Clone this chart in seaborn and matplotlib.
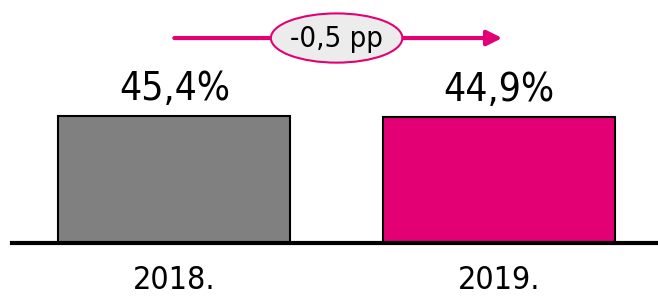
import pandas as pd
import seaborn as sns
import matplotlib.pyplot as plt
from matplotlib.patches import Ellipse

# podaci
years = ['2018.', '2019.']
values = [45.4, 44.9]
value_labels = ['45,4%', '44,9%']
change_label = '-0,5 pp'
bar_colors = ['#808080', '#E20074']

df = pd.DataFrame({'year': years, 'value': values})

sns.set_style('white')
plt.rcParams['font.family'] = ['DejaVu Sans']
plt.rcParams['font.stretch'] = 'condensed'
plt.rcParams['text.color'] = 'black'
plt.rcParams['xtick.color'] = 'black'

fig = plt.figure(figsize=(6.58, 2.97), dpi=100)
ax = fig.add_axes([12 / 658, 1 - 243 / 297, 1 - 12 / 658, 243 / 297])

sns.barplot(data=df, x='year', y='value', hue='year', palette=bar_colors,
            saturation=1, width=0.714, edgecolor='black', linewidth=1.5,
            legend=False, ax=ax)

ax.set_xlim(-0.5, 1.49)
ax.set_ylim(0, 86.9)

# vrijednosti iznad stupaca
for i, (v, lab) in enumerate(zip(values, value_labels)):
    ax.annotate(lab, (i, v), xytext=(0, 6), textcoords='offset points',
                ha='center', va='bottom', fontsize=28)

# strelica s promjenom
ax.annotate('', xy=(1.01, 73.3), xytext=(0, 73.3),
            arrowprops=dict(arrowstyle='-|>,head_length=0.9,head_width=0.45',
                            color='#E20074', lw=3, shrinkA=0, shrinkB=0))
ax.add_patch(Ellipse((0.5, 73.3), 0.405, 17.6, facecolor='#ECECEC',
                     edgecolor='#E20074', lw=1.5, zorder=5))
ax.text(0.5, 73.0, change_label, ha='center', va='center', fontsize=21, zorder=6)

# osi
for s in ['top', 'right', 'left']:
    ax.spines[s].set_visible(False)
ax.spines['bottom'].set_linewidth(3)
ax.spines['bottom'].set_color('black')
ax.set_yticks([])
ax.set_xlabel('')
ax.set_ylabel('')
ax.tick_params(axis='x', length=0, pad=16, labelsize=23)

fig.savefig('out.png', dpi=100)
